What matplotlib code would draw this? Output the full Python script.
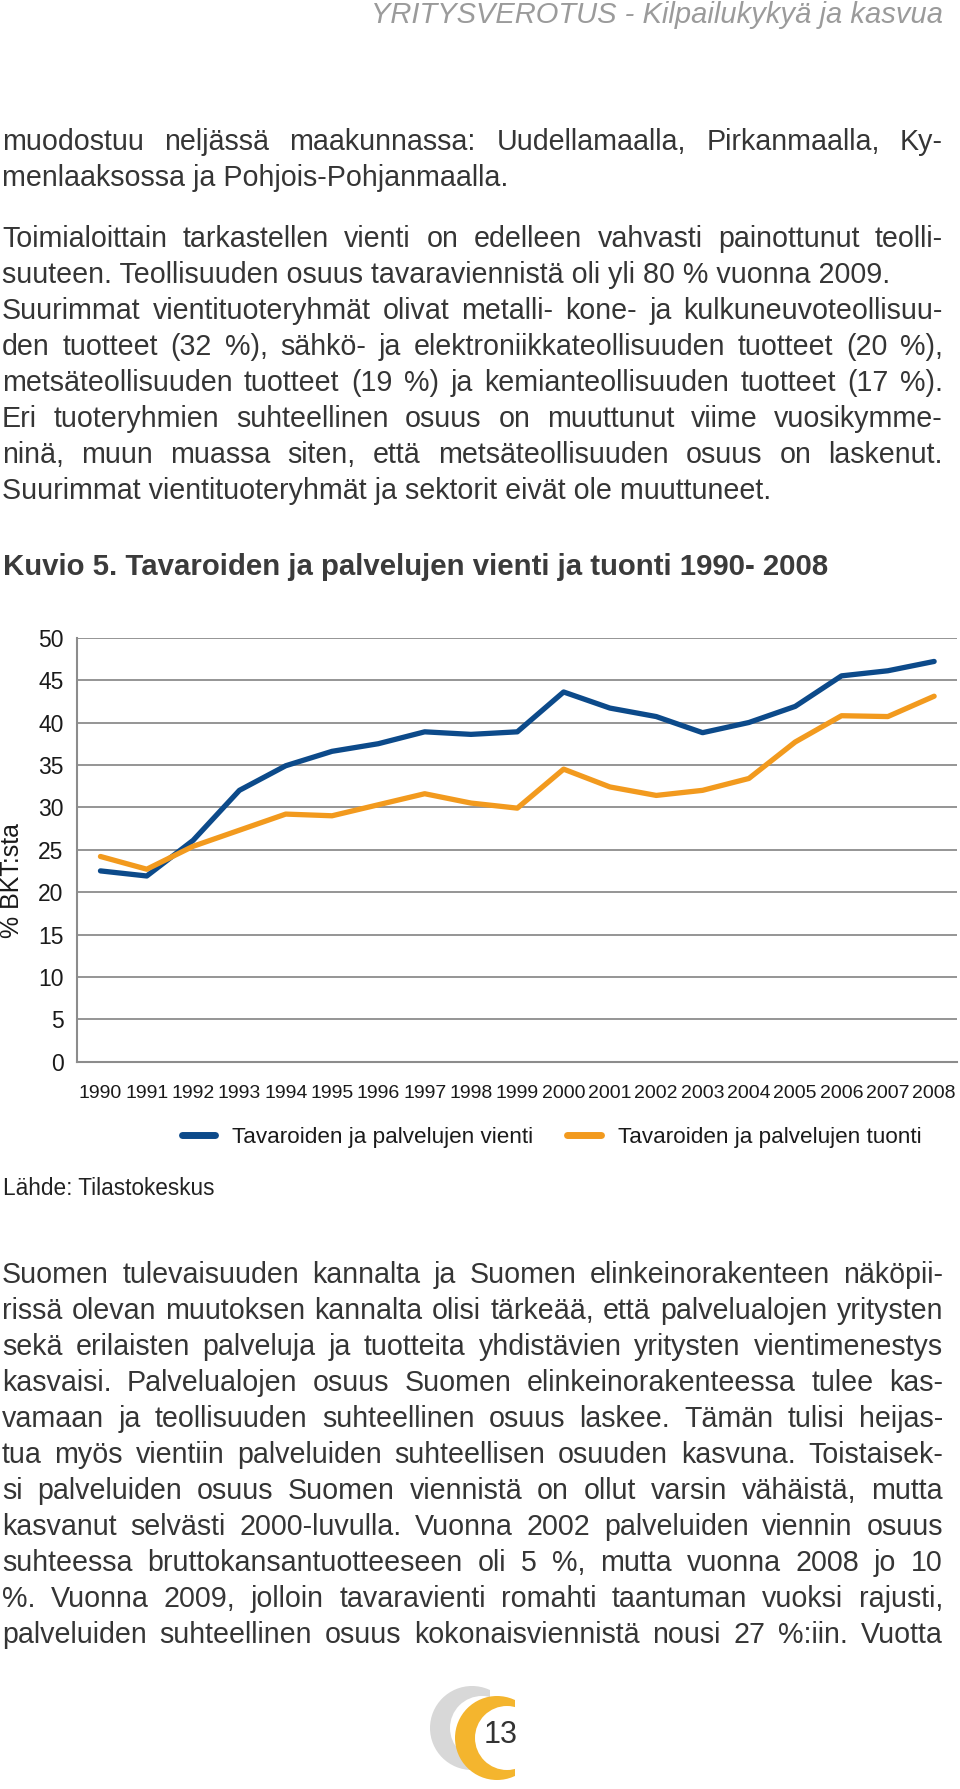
import numpy as np
import matplotlib
matplotlib.use('Agg')
import matplotlib.pyplot as plt
from matplotlib.lines import Line2D
from matplotlib.patches import Circle, Rectangle

plt.rcParams['font.family'] = ['Liberation Sans', 'DejaVu Sans']

W, H = 960, 1789

# chart data (% of GDP)
years = [str(y) for y in range(1990, 2009)]
vienti = [22.5, 21.9, 26.1, 32.0, 34.9, 36.6, 37.5, 38.9, 38.6, 38.9,
          43.6, 41.7, 40.7, 38.8, 40.0, 41.9, 45.5, 46.1, 47.2]
tuonti = [24.2, 22.7, 25.4, 27.3, 29.2, 29.0, 30.3, 31.6, 30.5, 29.9,
          34.5, 32.4, 31.4, 32.0, 33.4, 37.7, 40.8, 40.7, 43.1]
yticks = list(range(0, 51, 5))
series_names = ['Tavaroiden ja palvelujen vienti', 'Tavaroiden ja palvelujen tuonti']

header = 'YRITYSVEROTUS - Kilpailukykyä ja kasvua'
title = 'Kuvio 5. Tavaroiden ja palvelujen vienti ja tuonti 1990- 2008'
source = 'Lähde: Tilastokeskus'
page_no = '13'

# (text, justified)
block1 = [
    ('muodostuu neljässä maakunnassa: Uudellamaalla, Pirkanmaalla, Ky-', True),
    ('menlaaksossa ja Pohjois-Pohjanmaalla.', False),
]
block2 = [
    ('Toimialoittain tarkastellen vienti on edelleen vahvasti painottunut teolli-', True),
    ('suuteen. Teollisuuden osuus tavaraviennistä oli yli 80 % vuonna 2009.', False),
    ('Suurimmat vientituoteryhmät olivat metalli- kone- ja kulkuneuvoteollisuu-', True),
    ('den tuotteet (32 %), sähkö- ja elektroniikkateollisuuden tuotteet (20 %),', True),
    ('metsäteollisuuden tuotteet (19 %) ja kemianteollisuuden tuotteet (17 %).', True),
    ('Eri tuoteryhmien suhteellinen osuus on muuttunut viime vuosikymme-', True),
    ('ninä, muun muassa siten, että metsäteollisuuden osuus on laskenut.', True),
    ('Suurimmat vientituoteryhmät ja sektorit eivät ole muuttuneet.', False),
]
block3 = [
    ('Suomen tulevaisuuden kannalta ja Suomen elinkeinorakenteen näköpii-', True),
    ('rissä olevan muutoksen kannalta olisi tärkeää, että palvelualojen yritysten', True),
    ('sekä erilaisten palveluja ja tuotteita yhdistävien yritysten vientimenestys', True),
    ('kasvaisi. Palvelualojen osuus Suomen elinkeinorakenteessa tulee kas-', True),
    ('vamaan ja teollisuuden suhteellinen osuus laskee. Tämän tulisi heijas-', True),
    ('tua myös vientiin palveluiden suhteellisen osuuden kasvuna. Toistaisek-', True),
    ('si palveluiden osuus Suomen viennistä on ollut varsin vähäistä, mutta', True),
    ('kasvanut selvästi 2000-luvulla. Vuonna 2002 palveluiden viennin osuus', True),
    ('suhteessa bruttokansantuotteeseen oli 5 %, mutta vuonna 2008 jo 10', True),
    ('%. Vuonna 2009, jolloin tavaravienti romahti taantuman vuoksi rajusti,', True),
    ('palveluiden suhteellinen osuus kokonaisviennistä nousi 27 %:iin. Vuotta', True),
]

fig = plt.figure(figsize=(W / 100, H / 100), dpi=100)
renderer = fig.canvas.get_renderer()

BODY = 20.6
TEXT_C = '#353535'
X0, X1 = 2, 943
PITCH = 36


def put_line(line, y, justify):
    if not justify:
        fig.text(X0 / W, 1 - y / H, line, fontsize=BODY, color=TEXT_C,
                 ha='left', va='baseline')
        return
    words = line.split(' ')
    texts = [fig.text(0, 1 - y / H, w, fontsize=BODY, color=TEXT_C,
                      ha='left', va='baseline') for w in words]
    widths = [t.get_window_extent(renderer).width for t in texts]
    gap = (X1 - X0 - sum(widths)) / (len(words) - 1)
    x = X0
    for t, w in zip(texts, widths):
        t.set_x(x / W)
        x += w + gap


def put_block(lines, y0):
    for i, (line, just) in enumerate(lines):
        put_line(line, y0 + i * PITCH, just)


fig.text(943 / W, 1 - 23.3 / H, header, fontsize=21, style='italic',
         color='#9b9b9b', ha='right', va='baseline')
put_block(block1, 150)
put_block(block2, 247.3)
put_block(block3, 1282.7)

fig.text(3 / W, 1 - 575 / H, title, fontsize=21.2, fontweight='bold',
         color='#3b3b3b', ha='left', va='baseline')

# chart
ax = fig.add_axes([77.3 / W, 1 - 1061.7 / H, 880 / W, 424 / H])
x = np.arange(len(years))
blue, orange = '#0c4a8a', '#f29a1e'
ax.plot(x, vienti, color=blue, lw=3.8, solid_joinstyle='round', solid_capstyle='round')
ax.plot(x, tuonti, color=orange, lw=3.8, solid_joinstyle='round', solid_capstyle='round')
ax.set_xlim(-0.5, len(years) - 0.5)
ax.set_ylim(0, 50)
ax.set_yticks(yticks)
ax.set_xticks(x)
ax.set_xticklabels(years, fontsize=14, color='#1a1a1a')
ax.tick_params(axis='y', length=0, labelsize=16.5, pad=10, labelcolor='#1a1a1a')
ax.tick_params(axis='x', length=0, pad=16.5)
ax.yaxis.grid(True, color='#8c8c8c', lw=1.3)
ax.set_axisbelow(True)
for s in ['top', 'right']:
    ax.spines[s].set_visible(False)
for s in ['left', 'bottom']:
    ax.spines[s].set_color('#8c8c8c')
    ax.spines[s].set_linewidth(1.5)

fig.text(12 / W, 1 - 881 / H, '% BKT:sta', rotation=90, fontsize=18,
         color='#1a1a1a', ha='center', va='center')

handles = [Line2D([], [], color=blue, lw=5, solid_capstyle='round'),
           Line2D([], [], color=orange, lw=5, solid_capstyle='round')]
ax.legend(handles, series_names, loc='center', ncol=2, frameon=False,
          bbox_to_anchor=(551.5 / W, 1 - 1137 / H), bbox_transform=fig.transFigure,
          fontsize=16.2, handlelength=1.5, handletextpad=0.75, columnspacing=1.5,
          borderpad=0, labelcolor='#1a1a1a')

fig.text(2.7 / W, 1 - 1195 / H, source, fontsize=16.3, color='#222222',
         ha='left', va='baseline')

# page logo
lax = fig.add_axes([400 / W, 0, 160 / W, 120 / H])
lax.set_xlim(400, 560)
lax.set_ylim(1789, 1669)
lax.axis('off')
for cx, cy, col in [(472, 1728, '#d8d8d8'), (497, 1738, '#f4b52e')]:
    lax.add_patch(Circle((cx, cy), 42, color=col, lw=0))
    lax.add_patch(Circle((cx + 10, cy), 32, color='white', lw=0))
    lax.add_patch(Rectangle((cx + 18, cy - 45), 30, 90, color='white', lw=0))
lax.text(501, 1735, page_no, fontsize=22, color='#333333', ha='center', va='center')

fig.savefig('out.png', dpi=100)
